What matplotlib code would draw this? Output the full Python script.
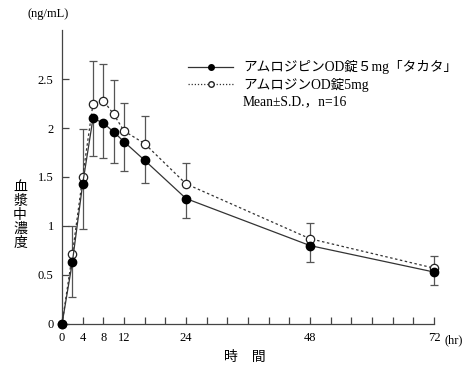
import matplotlib
matplotlib.use("Agg")
from matplotlib import pyplot as plt
from matplotlib.lines import Line2D

# sampling times (hr)
hours = [0, 2, 4, 6, 8, 10, 12, 16, 24, 48, 72]

# test product (filled circles)
test_mean = [0, 0.63, 1.43, 2.10, 2.05, 1.96, 1.86, 1.67, 1.28, 0.80, 0.53]
test_lower = [0, 0.28, 0.97, 1.71, 1.69, 1.64, 1.56, 1.44, 1.08, 0.63, 0.40]

# reference product (open circles)
ref_mean = [0, 0.71, 1.50, 2.25, 2.28, 2.14, 1.97, 1.84, 1.43, 0.87, 0.57]
ref_upper = [0, 1.00, 1.99, 2.68, 2.65, 2.49, 2.26, 2.12, 1.64, 1.03, 0.69]

test_label = "アムロジピンOD錠５mg「タカタ」"
ref_label = "アムロジンOD錠5mg"
stats_label = "Mean±S.D.，n=16"

xtick_pos = list(range(0, 73, 4))
xtick_shown = [0, 4, 8, 12, 24, 48, 72]
ytick_pos = [0, 0.5, 1, 1.5, 2, 2.5]
ytick_labels = ["0", "0.5", "1", "1.5", "2", "2.5"]

serif = ["Liberation Serif", "Noto Sans CJK JP"]
jp = ["Noto Sans CJK JP", "DejaVu Sans"]

fig = plt.figure(figsize=(4.77, 3.78), dpi=100)
ax = fig.add_axes([0.130, 0.1429, 0.780, 0.7777])

line_col = "#333333"
err_col = "#555555"

# error bars: reference +SD upward, test -SD downward
up = [u - m for u, m in zip(ref_upper, ref_mean)]
down = [m - l for m, l in zip(test_mean, test_lower)]
ax.errorbar(hours[1:], ref_mean[1:], yerr=[[0] * 10, up[1:]], fmt="none",
            ecolor=err_col, elinewidth=0.9, capsize=3, capthick=0.9, zorder=1)
ax.errorbar(hours[1:], test_mean[1:], yerr=[down[1:], [0] * 10], fmt="none",
            ecolor=err_col, elinewidth=0.9, capsize=3, capthick=0.9, zorder=1)

ax.plot(hours, ref_mean, linestyle=(0, (2, 2)), color=line_col, lw=0.9,
        marker="o", ms=6, mfc="white", mec="#222222", mew=0.9, zorder=3)
ax.plot(hours, test_mean, linestyle="-", color=line_col, lw=0.9,
        marker="o", ms=6, mfc="black", mec="black", zorder=4)

ax.set_xlim(0, 72)
ax.set_ylim(0, 3.0)
ax.spines["top"].set_visible(False)
ax.spines["right"].set_visible(False)
for s in ("left", "bottom"):
    ax.spines[s].set_color("#444444")
    ax.spines[s].set_linewidth(0.9)
for a in ax.get_children():
    try:
        a.set_clip_on(False)
    except Exception:
        pass

ax.set_xticks(xtick_pos)
ax.set_xticklabels([str(t) if t in xtick_shown else "" for t in xtick_pos],
                   fontfamily=serif, fontsize=9)
ax.set_yticks(ytick_pos)
ax.set_yticklabels(ytick_labels, fontfamily=serif, fontsize=9)
ax.tick_params(direction="in", length=5, width=0.9, color="#444444", pad=6)

# unit labels
ax.text(74.0, -0.165, "(hr)", fontfamily=serif, fontsize=9, ha="left", va="center",
        transform=ax.transData, clip_on=False)
fig.text(28 / 477, 1 - 14 / 378, "(ng/mL)", fontfamily=serif, fontsize=9,
         ha="left", va="center")

# axis titles
fig.text(245 / 477, 1 - 357 / 378, "時　間", fontfamily=jp, fontsize=10,
         ha="center", va="center")
fig.text(20 / 477, 1 - 215 / 378, "血\n漿\n中\n濃\n度", fontfamily=jp, fontsize=10,
         ha="center", va="center", linespacing=1.0)

handles = [
    Line2D([], [], color=line_col, lw=0.9, marker="o", ms=4, mfc="black", mec="black"),
    Line2D([], [], color=line_col, lw=0.9, linestyle=(0, (1, 1.5)), marker="o", ms=4,
           mfc="white", mec="#222222"),
    Line2D([], [], color="none"),
]
leg = ax.legend(handles, [test_label, ref_label, stats_label], loc="upper left",
                bbox_to_anchor=(0.325, 0.915), frameon=False, handlelength=3.3,
                handletextpad=0.7, labelspacing=0.25, borderaxespad=0,
                prop={"family": serif, "size": 9.8})

fig.savefig("out.png", dpi=100)
